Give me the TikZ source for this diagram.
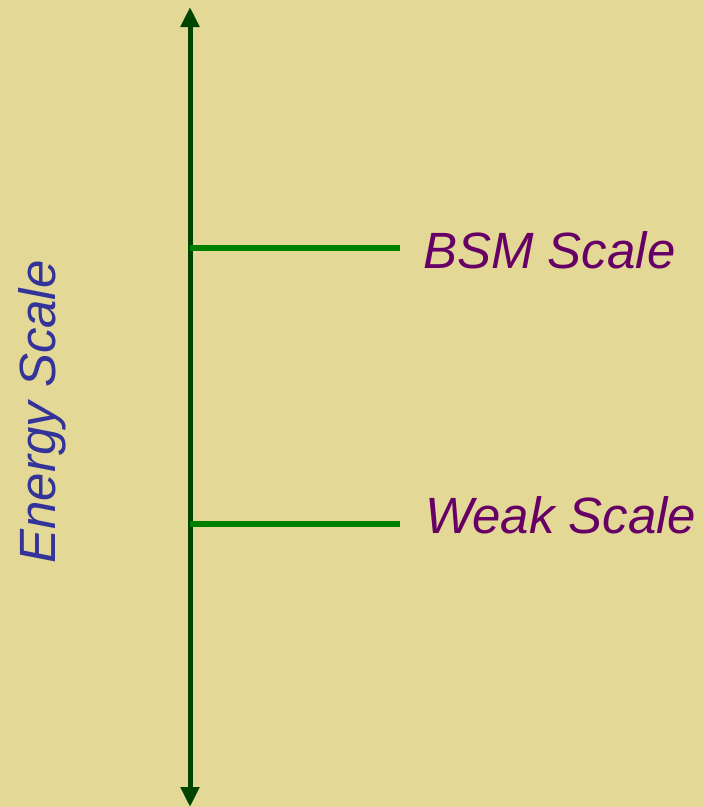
\documentclass[tikz,border=0pt]{standalone}
\usepackage{fontspec}
\setmainfont{Liberation Sans}
\usetikzlibrary{arrows.meta}
\definecolor{bg}{RGB}{227,216,149}
\definecolor{axisgreen}{RGB}{0,68,0}
\definecolor{tickgreen}{RGB}{0,128,0}
\definecolor{labelpurple}{RGB}{102,0,102}
\definecolor{axisblue}{RGB}{51,51,153}
\begin{document}
\begin{tikzpicture}[x=1pt,y=-1pt,
  axisline/.style={draw=axisgreen,line width=5pt,{Triangle[length=20pt,width=18pt]}-{Triangle[length=20pt,width=18pt]}},
  tickline/.style={draw=tickgreen,line width=6pt},
  scalelabel/.style={text=labelpurple,font=\fontsize{51}{61}\selectfont\itshape,anchor=base west,inner sep=0pt},
  axislabel/.style={text=axisblue,font=\fontsize{51}{61}\selectfont\itshape,anchor=base,inner sep=0pt,rotate=90}]
\fill[bg] (0,0) rectangle (703,807);
\useasboundingbox (0,0) rectangle (703,807);
\coordinate (top) at (190,7);
\coordinate (bot) at (190,807);
\draw[axisline] (bot) -- (top);
\coordinate (bsmL) at (190,248);
\coordinate (bsmR) at (400,248);
\coordinate (weakL) at (190,524);
\coordinate (weakR) at (400,524);
\draw[tickline] (bsmL) -- (bsmR);
\draw[tickline] (weakL) -- (weakR);
\node[scalelabel] (bsm) at (423,268) {BSM Scale};
\node[scalelabel] (weak) at (425,533) {Weak Scale};
\node[axislabel] (energy) at (56,412) {Energy Scale};
\end{tikzpicture}
\end{document}
